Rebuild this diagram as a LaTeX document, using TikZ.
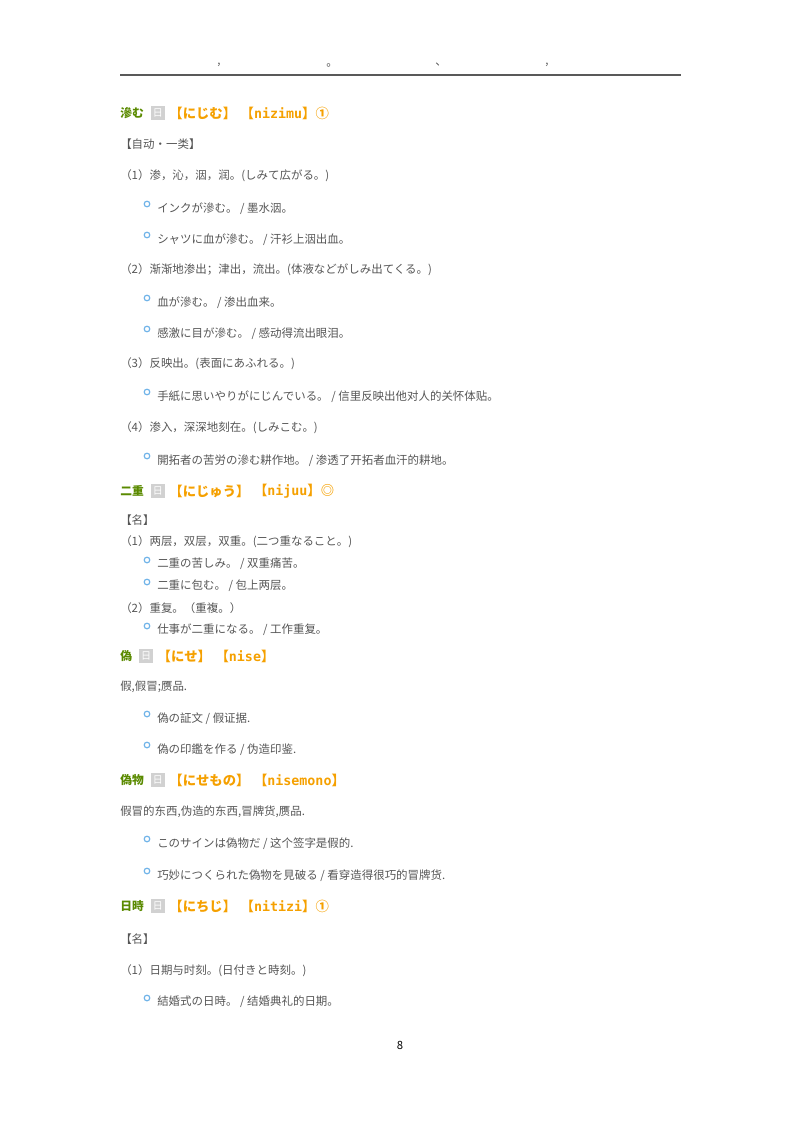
\documentclass[tikz,border=0pt]{standalone}
\usepackage{fontspec}
\setmainfont{Noto Sans CJK SC}
\newfontfamily\monofont{DejaVu Sans Mono}
\usetikzlibrary{positioning}
\definecolor{txtgray}{HTML}{555555}
\definecolor{hdgreen}{HTML}{5A8A00}
\definecolor{hdorange}{HTML}{F5A000}
\definecolor{dotblue}{HTML}{6FB3E8}
\begin{document}
\begin{tikzpicture}[x=0.75pt,y=-0.75pt,
    body/.style={anchor=west,inner sep=0pt,text=txtgray,font=\fontsize{8.6}{10}\selectfont},
    head/.style={anchor=west,inner sep=0pt,text=hdgreen,font=\fontsize{8.8}{10}\selectfont\bfseries},
    kana/.style={inner sep=0pt,text=hdorange,font=\fontsize{10}{12}\selectfont\bfseries},
    tag/.style={inner ysep=2pt,inner xsep=1.5pt,fill=black!18,text=white,font=\fontsize{7.5}{9}\selectfont},
    dot/.style={circle,draw=dotblue,line width=0.9pt,inner sep=0pt,minimum size=4.2pt}]
  \useasboundingbox (0,0) rectangle (800,1132);
  % header rule
  \coordinate (ruleL) at (120,75);
  \coordinate (ruleR) at (681,75);
  \draw[line width=1pt,black!65] (ruleL) -- (ruleR);
  \node[body] (m1) at (217,65) {,};
  \node[body] (m2) at (326,65) {。};
  \node[body] (m3) at (435,65) {、};
  \node[body] (m4) at (545,65) {,};

  % entry: 滲む
  \node[head] (w1) at (120,113) {滲む};
  \node[tag,right=5pt of w1] (t1) {日};
  \node[kana,right=3pt of t1] (k1) {【にじむ】};
  \node[kana,right=3pt of k1] (r1) {【{\monofont nizimu}】①};
  \node[body] (p1) at (120,144) {【自动·一类】};
  \node[body] (s11) at (120,176) {（1）渗，沁，洇，润。(しみて広がる。)};
  \node[dot] (d111) at (147,204) {};
  \node[body] (e111) at (157,209) {インクが滲む。 / 墨水洇。};
  \node[dot] (d112) at (147,235) {};
  \node[body] (e112) at (157,240) {シャツに血が滲む。 / 汗衫上洇出血。};
  \node[body] (s12) at (120,270) {（2）渐渐地渗出；津出，流出。(体液などがしみ出てくる。)};
  \node[dot] (d121) at (147,298) {};
  \node[body] (e121) at (157,303) {血が滲む。 / 渗出血来。};
  \node[dot] (d122) at (147,329) {};
  \node[body] (e122) at (157,334) {感激に目が滲む。 / 感动得流出眼泪。};
  \node[body] (s13) at (120,364) {（3）反映出。(表面にあふれる。)};
  \node[dot] (d131) at (147,392) {};
  \node[body] (e131) at (157,397) {手紙に思いやりがにじんでいる。 / 信里反映出他对人的关怀体贴。};
  \node[body] (s14) at (120,428) {（4）渗入，深深地刻在。(しみこむ。)};
  \node[dot] (d141) at (147,456) {};
  \node[body] (e141) at (157,461) {開拓者の苦労の滲む耕作地。 / 渗透了开拓者血汗的耕地。};

  % entry: 二重
  \node[head] (w2) at (120,491) {二重};
  \node[tag,right=5pt of w2] (t2) {日};
  \node[kana,right=3pt of t2] (k2) {【にじゅう】};
  \node[kana,right=3pt of k2] (r2) {【{\monofont nijuu}】◎};
  \node[body] (p2) at (120,520) {【名】};
  \node[body] (s21) at (120,542) {（1）两层，双层，双重。(二つ重なること。)};
  \node[dot] (d211) at (147,560) {};
  \node[body] (e211) at (157,564) {二重の苦しみ。 / 双重痛苦。};
  \node[dot] (d212) at (147,582) {};
  \node[body] (e212) at (157,586) {二重に包む。 / 包上两层。};
  \node[body] (s22) at (120,608) {（2）重复。（重複。）};
  \node[dot] (d221) at (147,626) {};
  \node[body] (e221) at (157,630) {仕事が二重になる。 / 工作重复。};

  % entry: 偽
  \node[head] (w3) at (120,656) {偽};
  \node[tag,right=5pt of w3] (t3) {日};
  \node[kana,right=3pt of t3] (k3) {【にせ】};
  \node[kana,right=3pt of k3] (r3) {【{\monofont nise}】};
  \node[body] (s31) at (120,687) {假,假冒;赝品.};
  \node[dot] (d311) at (147,714) {};
  \node[body] (e311) at (157,719) {偽の証文 / 假证据.};
  \node[dot] (d312) at (147,745) {};
  \node[body] (e312) at (157,750) {偽の印鑑を作る / 伪造印鉴.};

  % entry: 偽物
  \node[head] (w4) at (120,780) {偽物};
  \node[tag,right=5pt of w4] (t4) {日};
  \node[kana,right=3pt of t4] (k4) {【にせもの】};
  \node[kana,right=3pt of k4] (r4) {【{\monofont nisemono}】};
  \node[body] (s41) at (120,812) {假冒的东西,伪造的东西,冒牌货,赝品.};
  \node[dot] (d411) at (147,839) {};
  \node[body] (e411) at (157,844) {このサインは偽物だ / 这个签字是假的.};
  \node[dot] (d412) at (147,871) {};
  \node[body] (e412) at (157,876) {巧妙につくられた偽物を見破る / 看穿造得很巧的冒牌货.};

  % entry: 日時
  \node[head] (w5) at (120,906) {日時};
  \node[tag,right=5pt of w5] (t5) {日};
  \node[kana,right=3pt of t5] (k5) {【にちじ】};
  \node[kana,right=3pt of k5] (r5) {【{\monofont nitizi}】①};
  \node[body] (p5) at (120,939) {【名】};
  \node[body] (s51) at (120,971) {（1）日期与时刻。(日付きと時刻。)};
  \node[dot] (d511) at (147,998) {};
  \node[body] (e511) at (157,1002) {結婚式の日時。 / 结婚典礼的日期。};

  % page number
  \node[inner sep=0pt,font=\fontsize{8.5}{9}\selectfont\rmfamily] (pg) at (400,1045) {8};
\end{tikzpicture}
\end{document}
